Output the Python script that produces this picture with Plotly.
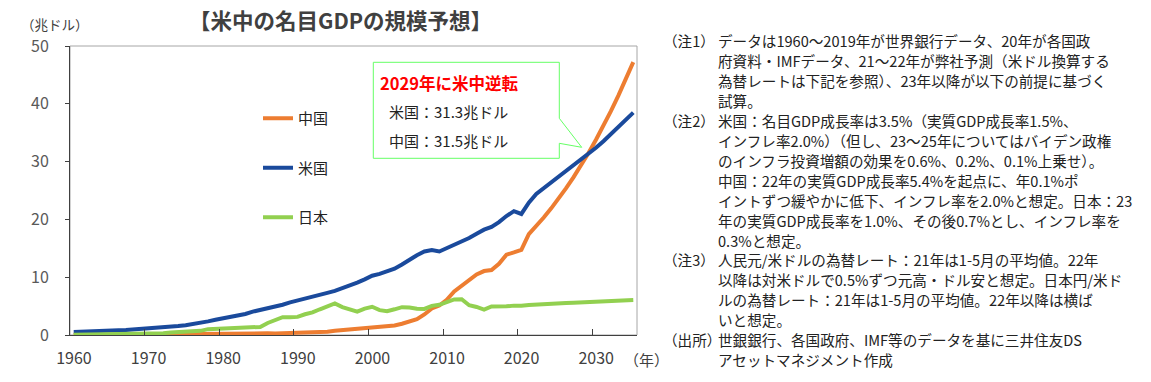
import plotly.graph_objects as go

years = list(range(1960, 2036))

china = [0.060, 0.050, 0.047, 0.051, 0.059, 0.070, 0.076, 0.072, 0.070, 0.079,
         0.093, 0.100, 0.114, 0.139, 0.144, 0.163, 0.154, 0.175, 0.150, 0.178,
         0.191, 0.196, 0.205, 0.230, 0.260, 0.309, 0.301, 0.273, 0.312, 0.348,
         0.361, 0.383, 0.427, 0.445, 0.564, 0.734, 0.864, 0.962, 1.029, 1.094,
         1.211, 1.339, 1.471, 1.660, 1.955, 2.286, 2.752, 3.550, 4.594, 5.102,
         6.087, 7.552, 8.532, 9.570, 10.475, 11.062, 11.233, 12.310, 13.895, 14.280,
         14.72, 17.45, 18.82, 20.32, 21.91, 23.60, 25.41, 27.32, 29.35, 31.50,
         33.78, 36.19, 38.73, 41.41, 44.23, 47.21]

usa = [0.54, 0.56, 0.60, 0.64, 0.69, 0.74, 0.81, 0.86, 0.94, 1.02,
       1.07, 1.16, 1.28, 1.43, 1.55, 1.69, 1.88, 2.09, 2.36, 2.63,
       2.86, 3.21, 3.34, 3.64, 4.04, 4.34, 4.58, 4.86, 5.24, 5.64,
       5.96, 6.16, 6.52, 6.86, 7.29, 7.64, 8.07, 8.58, 9.06, 9.63,
       10.25, 10.58, 10.94, 11.46, 12.21, 13.04, 13.81, 14.45, 14.71, 14.45,
       14.99, 15.54, 16.20, 16.78, 17.52, 18.22, 18.71, 19.52, 20.58, 21.43,
       20.94, 22.90, 24.39, 25.39, 26.33, 27.28, 28.23, 29.22, 30.24, 31.30,
       32.40, 33.53, 34.71, 35.92, 37.18, 38.48]

japan = [0.044, 0.054, 0.061, 0.069, 0.082, 0.091, 0.106, 0.124, 0.147, 0.172,
         0.213, 0.240, 0.318, 0.432, 0.479, 0.521, 0.586, 0.721, 1.014, 1.055,
         1.105, 1.218, 1.134, 1.243, 1.318, 1.399, 2.079, 2.533, 3.072, 3.054,
         3.133, 3.584, 3.909, 4.454, 4.907, 5.449, 4.833, 4.415, 4.033, 4.562,
         4.888, 4.304, 4.115, 4.445, 4.815, 4.755, 4.530, 4.515, 5.038, 5.231,
         5.700, 6.157, 6.203, 5.156, 4.850, 4.389, 4.927, 4.867, 4.955, 5.082,
         5.05, 5.20, 5.30, 5.37, 5.42, 5.48, 5.53, 5.59, 5.64, 5.70,
         5.76, 5.81, 5.87, 5.93, 5.99, 6.05]

series_names = ["中国", "米国", "日本"]
series_colors = ["#ED7D31", "#1A4A9C", "#92D050"]

x_tick_labels = ["1960", "1970", "1980", "1990", "2000", "2010", "2020", "2030"]
y_tick_vals = [0, 10, 20, 30, 40, 50]

title_text = "【米中の名目GDPの規模予想】"
y_unit = "（兆ドル）"
x_unit = "（年）"
callout_lines = ["2029年に米中逆転", "米国：31.3兆ドル", "中国：31.5兆ドル"]

notes = [
    ("（注1）", "データは1960～2019年が世界銀行データ、20年が各国政"),
    ("", "府資料・IMFデータ、21～22年が弊社予測（米ドル換算する"),
    ("", "為替レートは下記を参照）、23年以降が以下の前提に基づく"),
    ("", "試算。"),
    ("（注2）", "米国：名目GDP成長率は3.5%（実質GDP成長率1.5%、"),
    ("", "インフレ率2.0%）（但し、23～25年についてはバイデン政権"),
    ("", "のインフラ投資増額の効果を0.6%、0.2%、0.1%上乗せ）。"),
    ("", "中国：22年の実質GDP成長率5.4%を起点に、年0.1%ポ"),
    ("", "イントずつ緩やかに低下、インフレ率を2.0%と想定。日本：23"),
    ("", "年の実質GDP成長率を1.0%、その後0.7%とし、インフレ率を"),
    ("", "0.3%と想定。"),
    ("（注3）", "人民元/米ドルの為替レート：21年は1-5月の平均値。22年"),
    ("", "以降は対米ドルで0.5%ずつ元高・ドル安と想定。日本円/米ド"),
    ("", "ルの為替レート：21年は1-5月の平均値。22年以降は横ば"),
    ("", "いと想定。"),
    ("（出所）", "世銀銀行、各国政府、IMF等のデータを基に三井住友DS"),
    ("", "アセットマネジメント作成"),
]

FONT = "Noto Sans CJK JP, Noto Sans, sans-serif"
W, H = 1151, 382
# plot area in screen pixels: x 70..637, y 46..335
L, T = 70, 46
R = W - 637
B = H - 335
PW, PH = W - L - R, H - T - B


def PX(x):
    return (x - L) / PW


def PY(y):
    return (H - B - y) / PH


fig = go.Figure()
for name, vals, col in zip(series_names, [china, usa, japan], series_colors):
    fig.add_trace(go.Scatter(x=years, y=vals, mode="lines", name=name,
                             legendgroup=name,
                             line=dict(color=col, width=4)))

annotations = []
annotations.append(dict(x=PX(340), y=PY(20), xref="paper", yref="paper",
                        text="<b>" + title_text + "</b>", showarrow=False,
                        xanchor="center", yanchor="middle",
                        font=dict(size=21.5, color="#404040", family=FONT)))
annotations.append(dict(x=PX(19), y=PY(23.5), xref="paper", yref="paper",
                        text=y_unit, showarrow=False, xanchor="left", yanchor="middle",
                        font=dict(size=13.5, color="#404040", family=FONT)))
annotations.append(dict(x=PX(646), y=PY(359), xref="paper", yref="paper",
                        text=x_unit, showarrow=False, xanchor="center", yanchor="middle",
                        font=dict(size=15, color="#404040", family=FONT)))

# callout texts
annotations.append(dict(x=PX(378), y=PY(83), xref="paper", yref="paper",
                        text="<b>" + callout_lines[0] + "</b>", showarrow=False,
                        xanchor="left", yanchor="middle",
                        font=dict(size=16.5, color="#FF0000", family=FONT)))
for i, t in enumerate(callout_lines[1:]):
    annotations.append(dict(x=PX(387), y=PY(111.5 + 28.5 * i), xref="paper", yref="paper",
                            text=t, showarrow=False, xanchor="left", yanchor="middle",
                            font=dict(size=15, color="#222222", family=FONT)))

# notes
for i, (lab, txt) in enumerate(notes):
    yy = 41 + i * 19.9
    if lab:
        annotations.append(dict(x=PX(661), y=PY(yy), xref="paper", yref="paper",
                                text=lab, showarrow=False, xanchor="left", yanchor="middle",
                                font=dict(size=14.6, color="#222222", family=FONT)))
    annotations.append(dict(x=PX(716), y=PY(yy), xref="paper", yref="paper",
                            text=txt, showarrow=False, xanchor="left", yanchor="middle",
                            font=dict(size=14.6, color="#222222", family=FONT)))

callout_pts = [(373.3, 62.3), (559.3, 62.3), (559.3, 118.3), (581.7, 147.3),
               (559.3, 143.3), (559.3, 158.3), (373.3, 158.3)]
path = "M " + " L ".join(f"{PX(a):.5f},{PY(b):.5f}" for a, b in callout_pts) + " Z"

shapes = [
    dict(type="rect", xref="paper", yref="paper", x0=0, x1=1, y0=0, y1=1,
         line=dict(color="#A6A6A6", width=1), layer="below"),
    dict(type="path", xref="paper", yref="paper", path=path,
         line=dict(color="#66FF66", width=1), fillcolor="white", layer="above"),
]

fig.update_layout(
    width=W, height=H,
    margin=dict(l=L, r=R, t=T, b=B, pad=0),
    paper_bgcolor="white", plot_bgcolor="white",
    font=dict(family=FONT, color="#404040"),
    showlegend=True,
    legend=dict(x=PX(258), y=PY(102), xanchor="left", yanchor="top",
                bgcolor="rgba(0,0,0,0)", tracegroupgap=27,
                font=dict(size=15, color="#222222", family=FONT),
                itemwidth=30),
    xaxis=dict(range=[1959.5, 2035.5],
               tickvals=[int(t) - 0.5 for t in x_tick_labels], ticktext=x_tick_labels,
               ticklabelshift=4, ticks="inside", ticklen=6, tickcolor="#404040",
               showline=True, linecolor="#404040", linewidth=1,
               showgrid=False, zeroline=False,
               tickfont=dict(size=16, color="#404040", family=FONT),
               ticklabelstandoff=9),
    yaxis=dict(range=[0, 50], tickvals=y_tick_vals,
               ticks="outside", ticklen=4, tickcolor="#404040",
               showline=True, linecolor="#404040", linewidth=1,
               showgrid=False, zeroline=False,
               tickfont=dict(size=16, color="#595959", family=FONT),
               ticklabelstandoff=13),
    annotations=annotations,
    shapes=shapes,
)

fig.write_html(
    "out.html",
    config={"displayModeBar": False},
    post_script=("document.documentElement.style.margin='0';"
                 "document.body.style.margin='0';"
                 "document.documentElement.style.overflow='hidden';"
                 "document.body.style.overflow='hidden';"),
)
